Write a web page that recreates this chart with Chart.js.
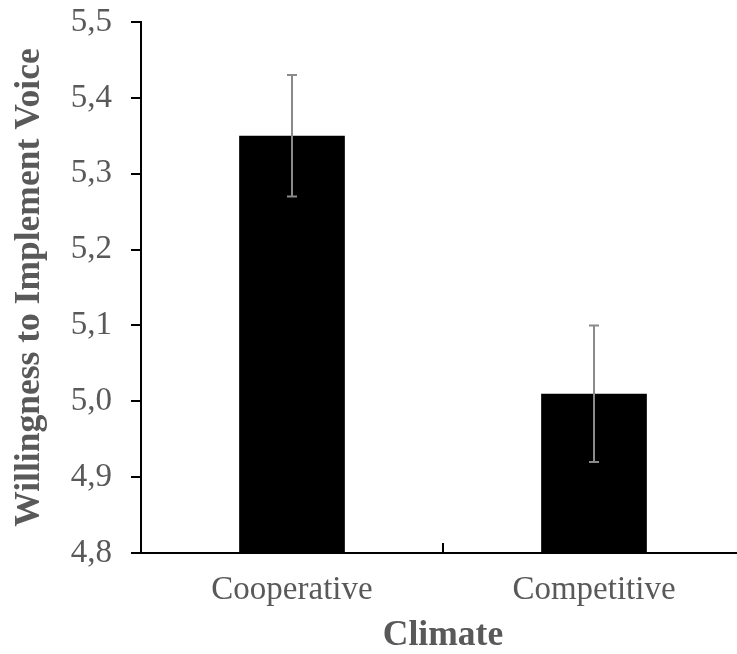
<!DOCTYPE html>
<html>
<head>
<meta charset="utf-8">
<script src="https://cdn.jsdelivr.net/npm/chart.js@4/dist/chart.umd.min.js"></script>
<style>
    html, body { margin: 0; padding: 0; background: #fff; overflow: hidden; }
    #wrap { width: 737px; height: 654px; overflow: hidden; }
</style>
</head>
<body>
<div id="wrap"><canvas id="climateChart" width="760" height="654"></canvas></div>
<script>
// values
var categories = ["Cooperative", "Competitive"];
var means = [5.35, 5.01];
var errLow = [5.27, 4.92];
var errHigh = [5.43, 5.10];
var yTicks = [4.8, 4.9, 5.0, 5.1, 5.2, 5.3, 5.4, 5.5];

const textGrey = "#595959";
const errGrey = "#8a8a8a";
const serif = "'Liberation Serif', 'Times New Roman', serif";

// error bars drawn over the bars using the chart's own scales
const errorBars = {
    id: "errorBars",
    afterDatasetsDraw(chart) {
        let ctx = chart.ctx;
        let x = chart.scales.x;
        let y = chart.scales.y;
        ctx.save();
        ctx.strokeStyle = errGrey;
        ctx.lineWidth = 2;
        for (let i = 0; i < categories.length; i++) {
            let px = x.getPixelForValue(i);
            let top = y.getPixelForValue(errHigh[i]);
            let bot = y.getPixelForValue(errLow[i]);
            ctx.beginPath();
            ctx.moveTo(px, top);
            ctx.lineTo(px, bot);
            ctx.moveTo(px - 5, top);
            ctx.lineTo(px + 5, top);
            ctx.moveTo(px - 5, bot);
            ctx.lineTo(px + 5, bot);
            ctx.stroke();
        }
        ctx.restore();
    }
};

var climateChart = new Chart(
    document.getElementById("climateChart"),
    {
        type: "bar",
        data: {
            labels: categories,
            datasets: [
                {
                    label: "Willingness",
                    data: means,
                    backgroundColor: "#000000",
                    borderWidth: 0,
                    barPercentage: 0.35,
                    categoryPercentage: 1.0
                }
            ]
        },
        options: {
            responsive: false,
            animation: false,
            layout: {
                padding: { left: 0, top: 22, right: 15, bottom: 0 }
            },
            plugins: {
                legend: { display: false },
                tooltip: { enabled: false }
            },
            scales: {
                x: {
                    afterFit: (scale) => {
                        scale.height = 101;
                        scale.paddingLeft = 0;
                        scale.paddingRight = 0;
                    },
                    grid: {
                        drawOnChartArea: false,
                        drawTicks: true,
                        tickLength: -10,
                        color: "#000000",
                        lineWidth: 2
                    },
                    border: { color: "#000000", width: 2 },
                    ticks: {
                        color: textGrey,
                        padding: 28,
                        font: { family: serif, size: 33 }
                    },
                    title: {
                        display: true,
                        text: "Climate",
                        color: textGrey,
                        padding: { top: 0, bottom: 0 },
                        font: { family: serif, size: 35.5, weight: "bold", lineHeight: 1.0 }
                    }
                },
                y: {
                    min: yTicks[0],
                    max: yTicks[yTicks.length - 1],
                    afterFit: (scale) => {
                        scale.width = 141;
                        scale.paddingTop = 0;
                        scale.paddingBottom = 0;
                    },
                    afterBuildTicks: (scale) => {
                        scale.ticks = yTicks.map(v => ({ value: v }));
                    },
                    grid: {
                        drawOnChartArea: false,
                        drawTicks: true,
                        tickLength: 10,
                        color: "#000000",
                        lineWidth: 2
                    },
                    border: { color: "#000000", width: 2 },
                    ticks: {
                        color: textGrey,
                        padding: 19,
                        font: { family: serif, size: 33 },
                        callback: (value) => Number(value).toFixed(1).replace(".", ",")
                    },
                    title: {
                        display: true,
                        text: "Willingness to Implement Voice",
                        color: textGrey,
                        padding: { top: 12, bottom: 0 },
                        font: { family: serif, size: 35.5, weight: "bold", lineHeight: 1.0 }
                    }
                }
            }
        },
        plugins: [errorBars]
    }
);
</script>
</body>
</html>
